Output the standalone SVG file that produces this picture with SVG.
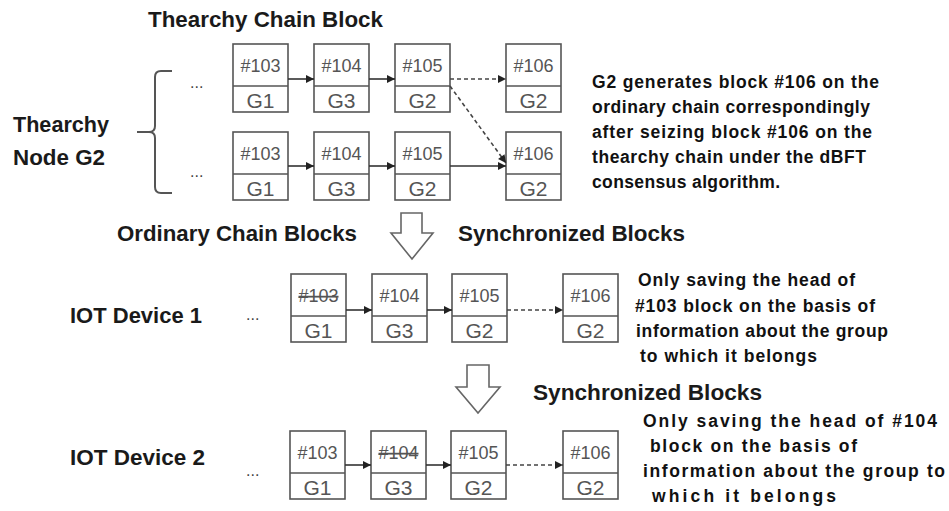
<svg xmlns="http://www.w3.org/2000/svg" width="949" height="511" viewBox="0 0 949 511">
<defs>
<marker id="ah" viewBox="0 0 10 10" refX="10" refY="5" markerWidth="9" markerHeight="8" markerUnits="userSpaceOnUse" orient="auto">
<path d="M0,0 L10,5 L0,10 z" fill="#222"/>
</marker>
<g id="blk">
<rect x="0" y="0" width="55" height="68" fill="#fff" stroke="#555" stroke-width="1.6"/>
<line x1="0" y1="42" x2="55" y2="42" stroke="#555" stroke-width="1.6"/>
</g>
</defs>
<style>
.h{font-family:"Liberation Sans",Arial,sans-serif;font-weight:bold;font-size:22px;fill:#1a1a1a}
.n{font-family:"Liberation Sans",Arial,sans-serif;font-weight:bold;font-size:17.5px;fill:#111}
.bt{font-family:"Liberation Sans",Arial,sans-serif;font-size:18px;fill:#555;text-anchor:middle}
.bg{font-family:"Liberation Sans",Arial,sans-serif;font-size:21px;fill:#555;text-anchor:middle}
.dots{font-family:"Liberation Sans",Arial,sans-serif;font-size:16px;fill:#444}
.c{stroke:#333;stroke-width:1.6;fill:none}
.d{stroke:#444;stroke-width:1.6;fill:none;stroke-dasharray:4 3}
.st{text-decoration:line-through}
.hollow{fill:#fff;stroke:#666;stroke-width:1.6}
</style>
<rect width="949" height="511" fill="#fff"/>

<g id="labels">
<text class="h" x="148" y="27" textLength="235" lengthAdjust="spacingAndGlyphs">Thearchy Chain Block</text>
<text class="h" x="13" y="132" textLength="96" lengthAdjust="spacingAndGlyphs">Thearchy</text>
<text class="h" x="13" y="165" textLength="92" lengthAdjust="spacingAndGlyphs">Node G2</text>
<text class="h" x="117" y="241" textLength="240" lengthAdjust="spacingAndGlyphs">Ordinary Chain Blocks</text>
<text class="h" x="458" y="241" textLength="227" lengthAdjust="spacingAndGlyphs">Synchronized Blocks</text>
<text class="h" x="70" y="323" textLength="132" lengthAdjust="spacingAndGlyphs">IOT Device 1</text>
<text class="h" x="533" y="400" textLength="229" lengthAdjust="spacingAndGlyphs">Synchronized Blocks</text>
<text class="h" x="70" y="465" textLength="135" lengthAdjust="spacingAndGlyphs">IOT Device 2</text>
</g>

<g id="note1">
<text class="n" x="592" y="88" textLength="287" lengthAdjust="spacing">G2 generates block #106 on the</text>
<text class="n" x="592" y="113" textLength="278" lengthAdjust="spacing">ordinary chain correspondingly</text>
<text class="n" x="592" y="138" textLength="280" lengthAdjust="spacing">after seizing block #106 on the</text>
<text class="n" x="592" y="163" textLength="274" lengthAdjust="spacing">thearchy chain under the dBFT</text>
<text class="n" x="592" y="188" textLength="188" lengthAdjust="spacing">consensus algorithm.</text>
</g>
<g id="note2">
<text class="n" x="638" y="286" textLength="217" lengthAdjust="spacing">Only saving the head of</text>
<text class="n" x="635" y="312" textLength="240" lengthAdjust="spacing">#103 block on the basis of</text>
<text class="n" x="636" y="337" textLength="252" lengthAdjust="spacing">information about the group</text>
<text class="n" x="640" y="362" textLength="177" lengthAdjust="spacing">to which it belongs</text>
</g>
<g id="note3">
<text class="n" x="643" y="427" textLength="294" lengthAdjust="spacing">Only saving the head of #104</text>
<text class="n" x="650" y="452" textLength="207" lengthAdjust="spacing">block on the basis of</text>
<text class="n" x="643" y="477" textLength="302" lengthAdjust="spacing">information about the group to</text>
<text class="n" x="652" y="502" textLength="184" lengthAdjust="spacing">which it belongs</text>
</g>

<g id="brace">
<path d="M172,71 L161,71 Q155,71 155,77 L155,126 Q155,132 149,132 L137,132 M149,132 Q155,132 155,138 L155,187 Q155,193 161,193 L172,193" fill="none" stroke="#555" stroke-width="2"/>
</g>

<g id="ellipses">
<text class="dots" x="190" y="88">...</text>
<text class="dots" x="190" y="177">...</text>
<text class="dots" x="246" y="320">...</text>
<text class="dots" x="246" y="476">...</text>
</g>

<g id="hollow-arrows">
<polygon class="hollow" points="401,213 422,213 422,233 433,233 412,259 391,233 401,233"/>
<polygon class="hollow" points="467,365 489,365 489,387 500,387 478,413 456,387 467,387"/>
</g>

<!-- Row A: thearchy chain -->
<g id="a103" transform="translate(233,44)"><use href="#blk"/><text class="bt" x="27.5" y="28">#103</text><text class="bg" x="27.5" y="64">G1</text></g>
<g id="a104" transform="translate(314,44)"><use href="#blk"/><text class="bt" x="27.5" y="28">#104</text><text class="bg" x="27.5" y="64">G3</text></g>
<g id="a105" transform="translate(395,44)"><use href="#blk"/><text class="bt" x="27.5" y="28">#105</text><text class="bg" x="27.5" y="64">G2</text></g>
<g id="a106" transform="translate(506,44)"><use href="#blk"/><text class="bt" x="27.5" y="28">#106</text><text class="bg" x="27.5" y="64">G2</text></g>

<!-- Row B: ordinary chain -->
<g id="b103" transform="translate(233,132)"><use href="#blk"/><text class="bt" x="27.5" y="28">#103</text><text class="bg" x="27.5" y="64">G1</text></g>
<g id="b104" transform="translate(314,132)"><use href="#blk"/><text class="bt" x="27.5" y="28">#104</text><text class="bg" x="27.5" y="64">G3</text></g>
<g id="b105" transform="translate(395,132)"><use href="#blk"/><text class="bt" x="27.5" y="28">#105</text><text class="bg" x="27.5" y="64">G2</text></g>
<g id="b106" transform="translate(506,132)"><use href="#blk"/><text class="bt" x="27.5" y="28">#106</text><text class="bg" x="27.5" y="64">G2</text></g>

<!-- Row C: IOT Device 1 -->
<g id="c103" transform="translate(291,274)"><use href="#blk"/><text class="bt st" x="27.5" y="28">#103</text><text class="bg" x="27.5" y="64">G1</text></g>
<g id="c104" transform="translate(372,274)"><use href="#blk"/><text class="bt" x="27.5" y="28">#104</text><text class="bg" x="27.5" y="64">G3</text></g>
<g id="c105" transform="translate(452,274)"><use href="#blk"/><text class="bt" x="27.5" y="28">#105</text><text class="bg" x="27.5" y="64">G2</text></g>
<g id="c106" transform="translate(563,274)"><use href="#blk"/><text class="bt" x="27.5" y="28">#106</text><text class="bg" x="27.5" y="64">G2</text></g>

<!-- Row D: IOT Device 2 -->
<g id="d103" transform="translate(290,431)"><use href="#blk"/><text class="bt" x="27.5" y="28">#103</text><text class="bg" x="27.5" y="64">G1</text></g>
<g id="d104" transform="translate(371,431)"><use href="#blk"/><text class="bt st" x="27.5" y="28">#104</text><text class="bg" x="27.5" y="64">G3</text></g>
<g id="d105" transform="translate(451,431)"><use href="#blk"/><text class="bt" x="27.5" y="28">#105</text><text class="bg" x="27.5" y="64">G2</text></g>
<g id="d106" transform="translate(563,431)"><use href="#blk"/><text class="bt" x="27.5" y="28">#106</text><text class="bg" x="27.5" y="64">G2</text></g>

<g id="connectors">
<line class="c" x1="288" y1="79" x2="314" y2="79" marker-end="url(#ah)"/>
<line class="c" x1="369" y1="79" x2="395" y2="79" marker-end="url(#ah)"/>
<line class="d" x1="450" y1="79" x2="506" y2="79" marker-end="url(#ah)"/>
<line class="d" x1="450" y1="86" x2="506" y2="163" marker-end="url(#ah)"/>
<line class="c" x1="288" y1="166" x2="314" y2="166" marker-end="url(#ah)"/>
<line class="c" x1="369" y1="166" x2="395" y2="166" marker-end="url(#ah)"/>
<line class="c" x1="450" y1="166" x2="506" y2="166" marker-end="url(#ah)"/>
<line class="c" x1="346" y1="310" x2="372" y2="310" marker-end="url(#ah)"/>
<line class="c" x1="427" y1="310" x2="452" y2="310" marker-end="url(#ah)"/>
<line class="d" x1="507" y1="310" x2="563" y2="310" marker-end="url(#ah)"/>
<line class="c" x1="345" y1="465" x2="371" y2="465" marker-end="url(#ah)"/>
<line class="c" x1="426" y1="465" x2="451" y2="465" marker-end="url(#ah)"/>
<line class="d" x1="506" y1="465" x2="563" y2="465" marker-end="url(#ah)"/>
</g>
</svg>
